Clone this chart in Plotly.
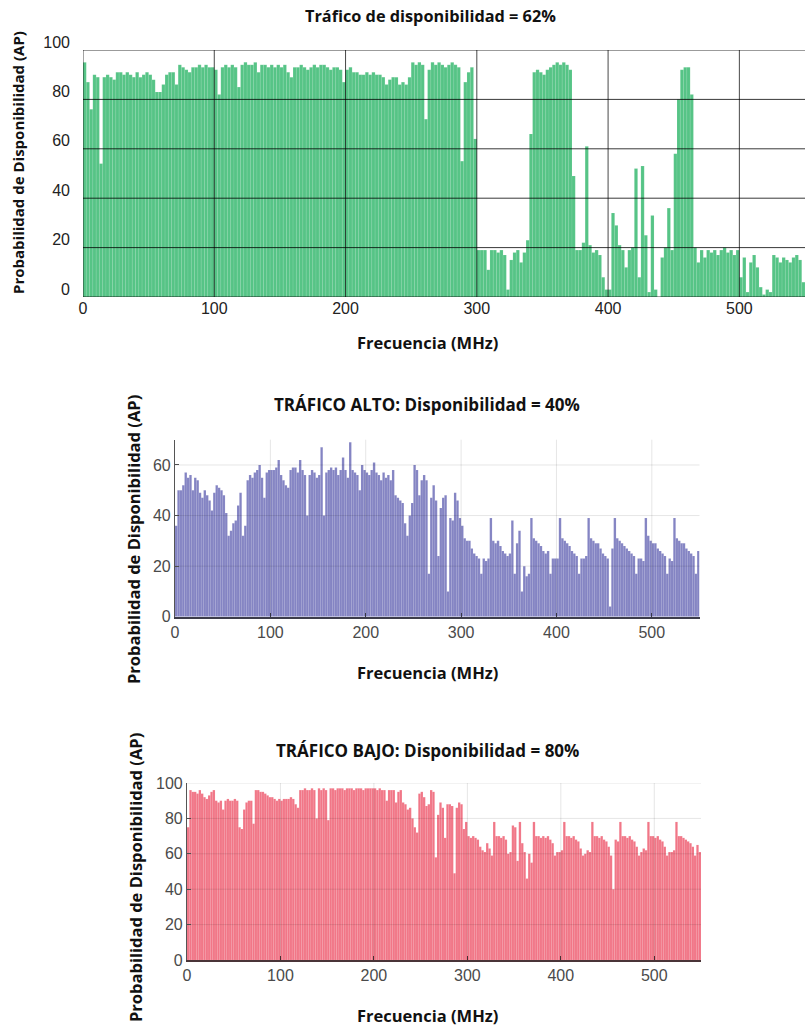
import plotly.graph_objects as go

W, H = 805, 1028

# ---------------- data (bin width 2.5 MHz, starting at 0 MHz) ----------------
freq_step = 2.5

top_vals = [
    95, 87, 76, 90, 89, 54, 89, 90, 89, 88, 91, 91, 90, 91, 90, 89, 91, 89, 90, 91,
    90, 88, 83, 83, 86, 90, 91, 91, 86, 94, 93, 92, 91, 93, 93, 94, 93, 94, 93, 93,
    92, 82, 93, 94, 93, 94, 93, 85, 94, 95, 94, 94, 95, 91, 94, 94, 93, 94, 93, 94,
    93, 94, 91, 89, 93, 93, 94, 93, 92, 93, 94, 93, 94, 94, 93, 92, 93, 93, 92, 87,
    92, 93, 91, 91, 90, 90, 91, 90, 91, 90, 90, 89, 86, 88, 89, 89, 86, 87, 86, 89,
    95, 94, 95, 94, 72, 92, 95, 94, 95, 94, 93, 94, 95, 94, 93, 55, 87, 91, 93, 64,
    19, 19, 19, 11, 19, 19, 18, 19, 17, 3, 15, 18, 19, 14, 18, 23, 66, 91, 92, 91,
    90, 92, 93, 94, 95, 94, 95, 94, 92, 49, 19, 19, 22, 61, 21, 18, 19, 17, 8, 3,
    3, 34, 29, 21, 19, 12, 19, 20, 52, 8, 53, 25, 2, 33, 3, 0, 16, 20, 36, 19,
    58, 80, 92, 93, 93, 82, 20, 14, 19, 16, 19, 18, 19, 17, 19, 20, 18, 19, 17, 19,
    8, 16, 2, 14, 17, 12, 4, 1, 3, 2, 17, 16, 14, 16, 15, 14, 16, 17, 15, 6,
]

alto_vals = [
    36, 50, 50, 52, 57, 55, 56, 50, 55, 54, 49, 47, 50, 48, 46, 42, 49, 52, 51, 50,
    48, 41, 32, 34, 37, 38, 44, 49, 32, 36, 54, 56, 55, 57, 58, 60, 55, 47, 57, 58,
    58, 58, 59, 62, 56, 54, 52, 51, 58, 59, 59, 57, 62, 58, 56, 40, 56, 58, 57, 55,
    56, 67, 40, 57, 58, 59, 58, 59, 56, 58, 63, 58, 55, 69, 58, 57, 56, 50, 60, 58,
    57, 56, 58, 61, 57, 56, 54, 57, 55, 56, 54, 58, 48, 47, 46, 45, 37, 32, 40, 45,
    60, 58, 48, 54, 56, 54, 17, 47, 52, 46, 24, 43, 47, 48, 10, 39, 38, 49, 46, 39,
    36, 31, 30, 30, 27, 25, 24, 23, 17, 23, 22, 23, 39, 30, 29, 30, 28, 26, 25, 24,
    25, 38, 17, 29, 34, 10, 20, 16, 17, 39, 31, 30, 29, 28, 26, 25, 26, 17, 23, 23,
    23, 39, 31, 30, 29, 28, 26, 25, 24, 17, 23, 23, 24, 39, 31, 30, 29, 29, 27, 25,
    24, 23, 4, 27, 39, 31, 30, 29, 28, 27, 26, 25, 24, 17, 23, 23, 22, 39, 32, 30,
    29, 29, 27, 26, 25, 24, 17, 23, 22, 39, 31, 30, 29, 29, 27, 26, 25, 24, 17, 26,
]

bajo_vals = [
    75, 96, 95, 95, 94, 96, 94, 92, 91, 93, 95, 96, 90, 89, 90, 85, 90, 91, 90, 90,
    91, 90, 75, 74, 85, 89, 90, 90, 77, 96, 96, 95, 95, 94, 93, 92, 92, 91, 90, 91,
    90, 91, 91, 91, 92, 91, 88, 86, 96, 96, 97, 96, 96, 97, 96, 80, 97, 96, 97, 96,
    79, 97, 97, 96, 97, 97, 97, 96, 97, 97, 97, 96, 97, 97, 97, 96, 97, 97, 97, 97,
    97, 96, 97, 96, 96, 90, 96, 96, 96, 89, 95, 96, 89, 88, 85, 86, 80, 75, 72, 94,
    95, 92, 87, 88, 96, 95, 58, 82, 89, 86, 69, 88, 88, 87, 49, 86, 89, 88, 74, 78,
    70, 69, 70, 69, 68, 64, 62, 61, 66, 63, 59, 78, 70, 70, 69, 70, 68, 60, 61, 76,
    75, 56, 78, 66, 61, 46, 60, 55, 78, 70, 70, 69, 70, 69, 70, 68, 66, 59, 61, 61,
    62, 78, 70, 70, 69, 70, 68, 67, 63, 59, 60, 62, 61, 78, 70, 70, 69, 70, 68, 67,
    64, 59, 40, 68, 67, 78, 70, 70, 69, 70, 68, 67, 64, 59, 61, 63, 62, 78, 70, 70,
    69, 70, 68, 67, 64, 59, 61, 61, 62, 78, 70, 70, 69, 68, 67, 66, 64, 59, 65, 61,
]

x_ticks = [0, 100, 200, 300, 400, 500]
top_y_ticks = [0, 20, 40, 60, 80, 100]
alto_y_ticks = [0, 20, 40, 60]
bajo_y_ticks = [0, 20, 40, 60, 80, 100]

titles = [
    "Tráfico de disponibilidad = 62%",
    "TRÁFICO ALTO: Disponibilidad = 40%",
    "TRÁFICO BAJO: Disponibilidad = 80%",
]
x_title = "Frecuencia (MHz)"
y_title = "Probabilidad de Disponibilidad (AP)"


def freqs(vals):
    return [i * freq_step for i in range(len(vals))]


def px(x):
    return x / W


def py(y):
    return 1 - y / H


TITLE_FONT = "'Open Sans', Lato, sans-serif"
TICK_FONT = "'Liberation Sans', Arial, sans-serif"

fig = go.Figure()

fig.add_trace(go.Bar(
    x=freqs(top_vals), y=top_vals, width=freq_step, offset=0,
    marker=dict(color="rgba(38,180,100,0.78)",
                line=dict(color="rgba(255,255,255,0.18)", width=0.5)),
    xaxis="x", yaxis="y", showlegend=False, hoverinfo="x+y",
))
fig.add_trace(go.Bar(
    x=freqs(alto_vals), y=alto_vals, width=freq_step, offset=0,
    marker=dict(color="rgba(98,98,178,0.78)",
                line=dict(color="rgba(255,255,255,0.15)", width=0.5)),
    xaxis="x2", yaxis="y2", showlegend=False, hoverinfo="x+y",
))
fig.add_trace(go.Bar(
    x=freqs(bajo_vals), y=bajo_vals, width=freq_step, offset=0,
    marker=dict(color="rgba(238,88,108,0.82)",
                line=dict(color="rgba(255,255,255,0.15)", width=0.5)),
    xaxis="x3", yaxis="y3", showlegend=False, hoverinfo="x+y",
))

shapes = []
# top chart: dark grid drawn over the bars
for v in top_y_ticks:
    shapes.append(dict(type="line", xref="x domain", yref="y", x0=0, x1=1, y0=v, y1=v,
                       line=dict(color="rgba(0,0,0,0.78)", width=1), layer="above"))
for v in x_ticks:
    shapes.append(dict(type="line", xref="x", yref="y domain", x0=v, x1=v, y0=0, y1=1,
                       line=dict(color="rgba(0,0,0,0.72)", width=1), layer="above"))
# lower charts: light grid drawn over the bars
for xa, ya, yt in (("x2", "y2", alto_y_ticks), ("x3", "y3", bajo_y_ticks)):
    for v in yt[1:]:
        shapes.append(dict(type="line", xref=f"{xa} domain", yref=ya, x0=0, x1=1, y0=v, y1=v,
                           line=dict(color="rgba(0,0,0,0.10)", width=1), layer="above"))
    for v in x_ticks[1:]:
        shapes.append(dict(type="line", xref=xa, yref=f"{ya} domain", x0=v, x1=v, y0=0, y1=1,
                           line=dict(color="rgba(0,0,0,0.10)", width=1), layer="above"))

top_tick_font = dict(family=TICK_FONT, size=16, color="#222222")
low_tick_font = dict(family=TICK_FONT, size=16, color="#4a4a4a")

common = dict(automargin=False, fixedrange=True, zeroline=False, showgrid=False)

fig.update_layout(
    width=W, height=H,
    autosize=False,
    margin=dict(l=0, r=0, t=0, b=0, pad=0, autoexpand=False),
    paper_bgcolor="white", plot_bgcolor="white",
    barmode="overlay",
    showlegend=False,
    shapes=shapes,
    xaxis=dict(domain=[px(83), 1.0], anchor="y", range=[0, 550],
               tickvals=x_ticks, showline=False,
               ticks="", tickfont=top_tick_font, **common),
    yaxis=dict(domain=[py(297), py(50)], anchor="x", range=[0, 100],
               tickvals=top_y_ticks, showline=False,
               ticks="", tickfont=top_tick_font, ticklabelshift=-8,
               ticklabelstandoff=12, **common),
    xaxis2=dict(domain=[px(175), px(699.5)], anchor="y2", range=[0, 550],
                tickvals=x_ticks, showline=True,
                linecolor="#3c3c4a", linewidth=1.5, ticks="inside", ticklen=4,
                tickcolor="#3c3c4a", tickfont=low_tick_font, **common),
    yaxis2=dict(domain=[py(616.7), py(439.7)], anchor="x2", range=[0, 70],
                tickvals=alto_y_ticks, showline=True,
                linecolor="#555555", linewidth=1.2, ticks="inside", ticklen=4,
                tickcolor="#555555", tickfont=low_tick_font, **common),
    xaxis3=dict(domain=[px(187), px(701)], anchor="y3", range=[0, 550],
                tickvals=x_ticks, showline=True,
                linecolor="#4a3438", linewidth=1.5, ticks="inside", ticklen=4,
                tickcolor="#4a3438", tickfont=low_tick_font, **common),
    yaxis3=dict(domain=[py(960), py(783)], anchor="x3", range=[0, 100],
                tickvals=bajo_y_ticks, showline=True,
                linecolor="#555555", linewidth=1.2, ticks="inside", ticklen=4,
                tickcolor="#555555", tickfont=low_tick_font, **common),
)

bold = dict(family=TITLE_FONT, size=15, color="#111111", weight="bold")
ann = []


def add_text(text, x, y, angle=0, size=15):
    f = dict(bold)
    f["size"] = size
    ann.append(dict(text=text, xref="paper", yref="paper", x=px(x), y=py(y),
                    xanchor="center", yanchor="middle", showarrow=False,
                    textangle=angle, font=f))


add_text(titles[0], 430, 16, size=16.3)
add_text(x_title, 427, 343, size=16.5)
add_text(y_title, 18, 163, -90, 15)

add_text(titles[1], 427, 405, size=17)
add_text(x_title, 427, 672, size=16.5)
add_text(y_title, 133, 540, -90, 16.5)

add_text(titles[2], 427, 750, size=17)
add_text(x_title, 427, 1015, size=16.5)
add_text(y_title, 135, 878, -90, 16.5)

fig.update_layout(annotations=ann)

fig.write_html(
    "out.html",
    config={"responsive": False, "displayModeBar": False},
    post_script="document.body.style.margin='0';document.body.style.overflow='hidden';",
)
